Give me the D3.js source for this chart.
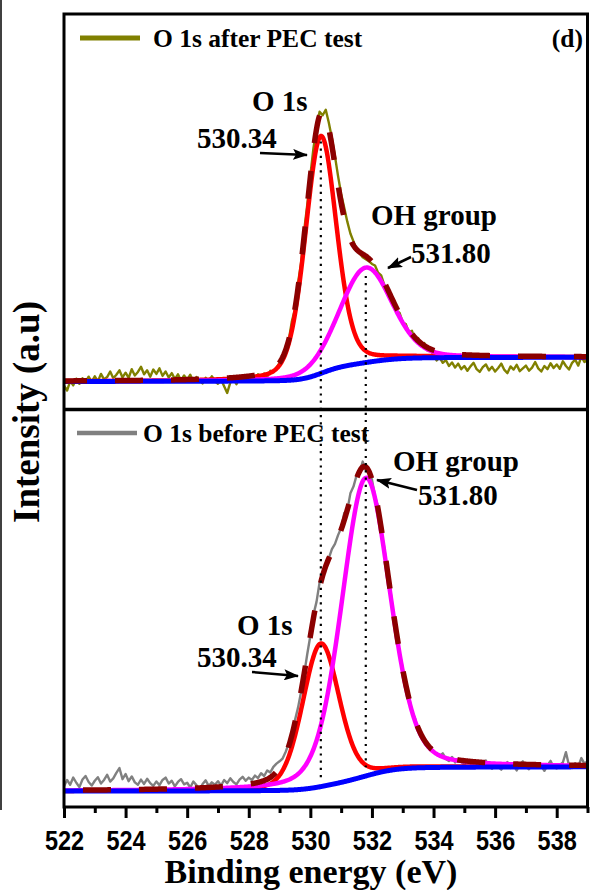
<!DOCTYPE html>
<html>
<head>
<meta charset="utf-8">
<script src="https://cdn.jsdelivr.net/npm/d3@7"></script>
<style>
  body { margin: 0; background: #fff; }
  svg { display: block; }
  text { font-family: "Liberation Serif", "Times New Roman", serif; font-weight: bold; fill: #000; }
</style>
</head>
<body>
<svg id="chart" width="590" height="890"></svg>
<script>
// ---- data -------------------------------------------------------------
// Raw spectra, sampled every 0.1 eV from 522.0 to 539.0 eV (arbitrary units)
const energyStart = 522.0;
const energyStep = 0.1;

const afterRaw = [
  6.0, 4.8, 7.2, 6.1, 7.8, 6.5, 7.9, 6.8, 8.3, 7.0,
  8.4, 7.1, 9.0, 7.6, 8.2, 9.6, 7.9, 8.8, 9.9, 8.1,
  9.3, 8.0, 10.2, 8.6, 9.5, 10.8, 8.9, 9.9, 8.3, 10.1,
  9.0, 10.4, 8.5, 9.6, 8.1, 9.2, 7.7, 8.9, 7.4, 8.6,
  7.5, 8.8, 7.0, 8.2, 7.3, 6.6, 8.0, 7.1, 8.4, 7.2,
  6.5, 7.6, 5.9, 4.2, 6.8, 7.7, 6.4, 7.9, 7.0, 8.2,
  7.1, 8.4, 7.6, 8.9, 8.0, 9.1, 8.3, 9.8, 9.4, 10.6,
  11.8, 13.0, 15.9, 17.6, 22.3, 25.4, 32.0, 37.1, 45.3, 51.8,
  59.2, 66.0, 71.2, 75.3, 74.4, 75.8, 72.5, 68.6, 64.0, 59.0,
  54.5, 51.0, 47.5, 44.5, 42.5, 40.5, 39.5, 38.5, 38.0, 37.5,
  36.8, 36.4, 34.6, 33.9, 31.5, 30.8, 28.2, 27.6, 25.0, 24.4,
  22.0, 21.6, 19.5, 19.9, 17.6, 18.1, 16.2, 16.8, 14.9, 15.4,
  13.6, 12.4, 13.1, 11.8, 12.5, 11.0, 11.9, 10.6, 11.6, 10.2,
  11.0, 9.8, 10.9, 11.8, 10.2, 9.5, 10.7, 11.4, 9.9, 10.8,
  9.6, 10.5, 11.6, 10.0, 9.2, 10.9, 10.1, 11.3, 9.7, 10.4,
  11.1, 9.8, 10.6, 12.0, 10.4, 9.6, 11.0, 10.2, 11.7, 10.5,
  11.4, 10.3, 12.2, 11.0, 10.1, 11.8, 12.6, 11.1, 13.4, 12.0,
  12.5
];

const beforeRaw = [
  5.2, 6.8, 5.6, 7.4, 6.1, 5.0, 6.9, 7.8, 6.3, 5.4,
  6.6, 7.5, 5.9, 6.8, 8.1, 6.4, 7.2, 8.6, 9.8, 7.0,
  8.3, 6.5, 7.7, 6.2, 5.6, 6.9, 5.8, 7.1, 6.0, 5.3,
  6.4, 5.5, 6.8, 7.4, 5.9, 6.6, 5.2, 6.3, 7.0, 5.7,
  6.1, 4.9, 6.4, 5.5, 3.9, 5.8, 6.7, 5.3, 6.2, 5.6,
  6.5, 5.4, 6.8, 6.0, 7.2, 6.3, 5.7, 6.9, 7.6, 6.6,
  7.4, 6.8, 7.9, 7.3, 8.5, 7.8, 9.2, 8.7, 10.1, 10.9,
  11.5, 12.2, 13.9, 16.0, 18.5, 21.8, 25.0, 29.0, 33.5, 38.5,
  43.1, 48.4, 51.6, 56.5, 58.1, 60.9, 62.6, 64.9, 66.2, 68.4,
  70.2, 73.9, 74.6, 78.9, 80.6, 83.4, 84.2, 86.9, 84.8, 84.3,
  82.4, 78.1, 75.6, 69.4, 65.3, 58.9, 54.5, 48.6, 43.9, 38.7,
  34.8, 30.2, 27.6, 24.1, 22.3, 19.2, 18.6, 16.1, 15.9, 14.3,
  14.0, 13.2, 12.8, 13.5, 12.1, 11.6, 12.6, 11.2, 12.0, 11.4,
  10.6, 11.8, 10.9, 10.2, 11.5, 10.0, 10.8, 11.7, 10.3, 9.6,
  10.9, 10.1, 9.4, 10.6, 11.3, 9.8, 10.4, 9.2, 10.7, 11.5,
  10.2, 9.5, 10.8, 9.9, 11.0, 10.3, 9.1, 10.5, 11.6, 10.0,
  9.7, 10.6, 11.2, 13.8, 10.4, 9.8, 11.0, 10.2, 12.3, 10.9,
  11.5
];

// Fitted components: O 1s lattice oxygen and surface OH group
const peakNames = ["O 1s", "OH group"];
const peakCenters = [530.34, 531.80];          // eV
const afterHeights = [60, 24];
const afterWidths = [1.2, 2.0];                // FWHM, eV
const afterMix = [0.25, 0.2];                  // Lorentzian fraction
const beforeHeights = [36, 75];
const beforeWidths = [1.4, 1.85];
const beforeMix = [0.2, 0.25];
const afterBackground = [7.1, 13.2];           // low / high binding energy side
const beforeBackground = [4.0, 10.1];

const xMajorTicks = [522, 524, 526, 528, 530, 532, 534, 536, 538];
const xMinorTicks = [523, 525, 527, 529, 531, 533, 535, 537, 539];

// ---- layout -----------------------------------------------------------
const plotLeft = 64, plotRight = 587.5, plotTop = 14, plotBottom = 807, plotMid = 409.5;

const svg = d3.select("#chart");
const x = d3.scaleLinear().domain([522, 539]).range([plotLeft, plotRight]);

const panels = [
  {
    id: "after", raw: afterRaw, heights: afterHeights, widths: afterWidths, mix: afterMix,
    background: afterBackground, rawColor: "#808000",
    legend: "O 1s after PEC test",
    y: d3.scaleLinear().domain([0, 100]).range([plotMid, plotTop]),
    legendLine: [80, 140, 38], legendText: [153, 47], legendWidth: 5,
    dashOffset: 5
  },
  {
    id: "before", raw: beforeRaw, heights: beforeHeights, widths: beforeWidths, mix: beforeMix,
    background: beforeBackground, rawColor: "#808080",
    legend: "O 1s before PEC test",
    y: d3.scaleLinear().domain([0, 100]).range([plotBottom, plotMid]),
    legendLine: [77, 137, 433], legendText: [143, 442], legendWidth: 4.5,
    dashOffset: 37
  }
];

// pseudo-Voigt line shape
function pseudoVoigt(e, c, h, w, m) {
  const u = (e - c) / w;
  return h * ((1 - m) * Math.exp(-4 * Math.LN2 * u * u) + m / (1 + 4 * u * u));
}

// Components plus a Shirley-type step background
function buildFit(p) {
  const grid = d3.range(522, 539.0001, 0.02);
  const comps = peakCenters.map((c, i) => grid.map(e => pseudoVoigt(e, c, p.heights[i], p.widths[i], p.mix[i])));
  const total = grid.map((_, k) => d3.sum(comps, cmp => cmp[k]));
  const cum = [0];
  for (let k = 1; k < grid.length; k++) cum.push(cum[k - 1] + (total[k] + total[k - 1]) / 2);
  const area = cum[cum.length - 1];
  const bg = cum.map(v => p.background[0] + (p.background[1] - p.background[0]) * v / area);
  return {
    grid, bg,
    comps: comps.map(cmp => cmp.map((v, k) => v + bg[k])),
    envelope: total.map((v, k) => v + bg[k])
  };
}

const defs = svg.append("defs");
defs.append("marker")
  .attr("id", "arrowHead")
  .attr("markerUnits", "userSpaceOnUse")
  .attr("markerWidth", 15).attr("markerHeight", 11)
  .attr("refX", 14).attr("refY", 5.5)
  .attr("orient", "auto")
  .append("path").attr("d", "M0,0 L15,5.5 L0,11 L3,5.5 Z").attr("fill", "#000");

const compColors = ["#ff0000", "#ff00ff"];

panels.forEach(p => {
  const [y0, y1] = p.y.range();
  const clipId = "clip-" + p.id;
  defs.append("clipPath").attr("id", clipId)
    .append("rect").attr("x", plotLeft).attr("y", y1).attr("width", plotRight - plotLeft).attr("height", y0 - y1);

  const g = svg.append("g").attr("clip-path", `url(#${clipId})`);
  const fit = buildFit(p);
  const rawPts = p.raw.map((v, i) => [energyStart + i * energyStep, v]);

  const line = d3.line().x(d => x(d[0])).y(d => p.y(d[1]));

  g.append("path").datum(rawPts).attr("d", line)
    .attr("fill", "none").attr("stroke", p.rawColor).attr("stroke-width", 2.4).attr("stroke-linejoin", "round");

  fit.comps.forEach((cmp, i) => {
    g.append("path").datum(fit.grid.map((e, k) => [e, cmp[k]])).attr("d", line)
      .attr("fill", "none").attr("stroke", compColors[i]).attr("stroke-width", 4.5);
  });

  g.append("path").datum(fit.grid.map((e, k) => [e, fit.bg[k]])).attr("d", line)
    .attr("fill", "none").attr("stroke", "#0000ff").attr("stroke-width", 5);

  g.append("path").datum(fit.grid.map((e, k) => [e, fit.envelope[k]])).attr("d", line)
    .attr("fill", "none").attr("stroke", "#8b0000").attr("stroke-width", 5.5)
    .attr("stroke-dasharray", "28 28").attr("stroke-dashoffset", p.dashOffset);

  // legend
  svg.append("line")
    .attr("x1", p.legendLine[0]).attr("x2", p.legendLine[1])
    .attr("y1", p.legendLine[2]).attr("y2", p.legendLine[2])
    .attr("stroke", p.rawColor).attr("stroke-width", p.legendWidth);
  svg.append("text").attr("x", p.legendText[0]).attr("y", p.legendText[1])
    .attr("font-size", 25.5).text(p.legend);
});

// dotted guides through both panels at the component positions
const guideSpans = [[panels[0].y(panels[0].heights[0] + 9.3) + 6, panels[1].y(7.5)],
                    [panels[0].y(panels[0].heights[1] + 11.8) + 8, panels[1].y(10)]];
peakCenters.forEach((c, i) => {
  svg.append("line")
    .attr("x1", x(c)).attr("x2", x(c))
    .attr("y1", guideSpans[i][0]).attr("y2", guideSpans[i][1])
    .attr("stroke", "#000").attr("stroke-width", 2.2).attr("stroke-dasharray", "2.2 5");
});

// frame and divider
svg.append("rect")
  .attr("x", plotLeft).attr("y", plotTop)
  .attr("width", plotRight - plotLeft).attr("height", plotBottom - plotTop)
  .attr("fill", "none").attr("stroke", "#000").attr("stroke-width", 3);
svg.append("line")
  .attr("x1", plotLeft).attr("x2", plotRight).attr("y1", plotMid).attr("y2", plotMid)
  .attr("stroke", "#000").attr("stroke-width", 3.5);
svg.append("line")
  .attr("x1", 1).attr("x2", 1).attr("y1", 0).attr("y2", 810)
  .attr("stroke", "#000").attr("stroke-width", 1.5);

// x axis: major and minor ticks
const axisMajor = svg.append("g").attr("transform", `translate(0,${plotBottom})`)
  .call(d3.axisBottom(x).tickValues(xMajorTicks).tickSize(11).tickFormat(d3.format("d")));
const axisMinor = svg.append("g").attr("transform", `translate(0,${plotBottom})`)
  .call(d3.axisBottom(x).tickValues(xMinorTicks).tickSize(6).tickFormat(""));
[axisMajor, axisMinor].forEach(a => {
  a.select(".domain").remove();
  a.selectAll(".tick line").attr("stroke", "#000").attr("stroke-width", 3);
});
axisMajor.selectAll(".tick text")
  .attr("y", 43).attr("dy", null)
  .attr("transform", "scale(0.84,1)")
  .style("font-family", "'Liberation Sans', Arial, sans-serif")
  .style("font-weight", "bold")
  .style("font-size", "28px")
  .attr("fill", "#000");

// axis titles
svg.append("text").attr("x", 311).attr("y", 883).attr("text-anchor", "middle")
  .attr("font-size", 34).text("Binding energy (eV)");
svg.append("text").attr("transform", "translate(39,412) rotate(-90)").attr("text-anchor", "middle")
  .attr("font-size", 37).text("Intensity (a.u)");

svg.append("text").attr("x", 583).attr("y", 47).attr("text-anchor", "end")
  .attr("font-size", 25.5).text("(d)");

// peak annotations
const fmt = d3.format(".2f");
const notes = [
  { peak: 0, name: [252, 111], value: [197, 148], arrow: [[260, 153], [307, 155]] },
  { peak: 1, name: [371, 225], value: [411, 263], arrow: [[411, 257], [388, 268]] },
  { peak: 0, name: [237, 635], value: [197, 667], arrow: [[252, 672], [298, 676]] },
  { peak: 1, name: [393, 471], value: [418, 505], arrow: [[417, 490], [377, 480]] }
];
notes.forEach(n => {
  svg.append("text").attr("x", n.name[0]).attr("y", n.name[1]).attr("font-size", 29).text(peakNames[n.peak]);
  svg.append("text").attr("x", n.value[0]).attr("y", n.value[1]).attr("font-size", 29).text(fmt(peakCenters[n.peak]));
  svg.append("line")
    .attr("x1", n.arrow[0][0]).attr("y1", n.arrow[0][1])
    .attr("x2", n.arrow[1][0]).attr("y2", n.arrow[1][1])
    .attr("stroke", "#000").attr("stroke-width", 2.5)
    .attr("marker-end", "url(#arrowHead)");
});
</script>
</body>
</html>
